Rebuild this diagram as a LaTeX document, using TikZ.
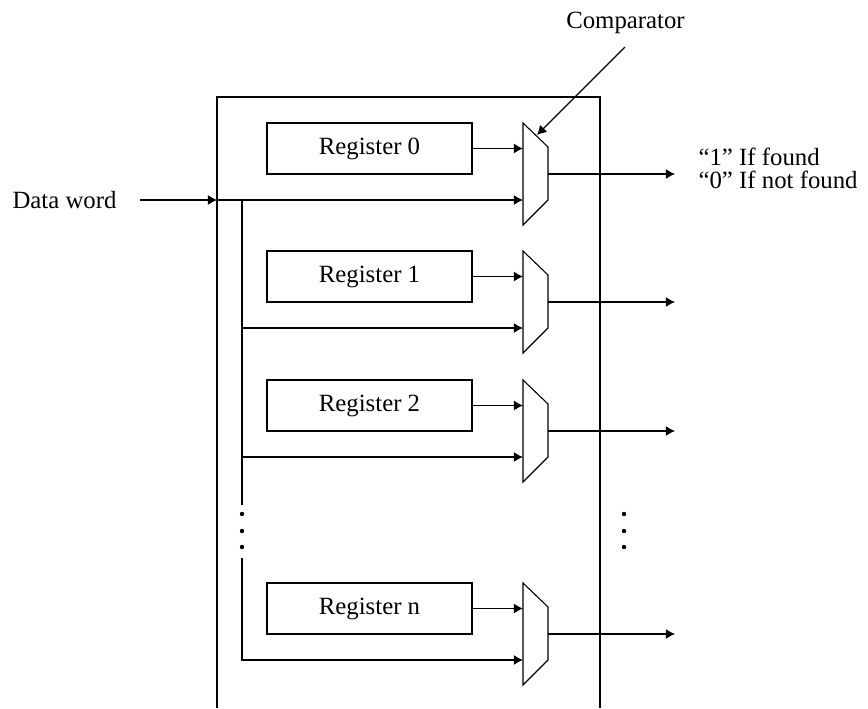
\documentclass[tikz,border=0pt]{standalone}
\usepackage{fontspec}
\setmainfont{Liberation Serif}
\usetikzlibrary{arrows.meta}
\begin{document}
\begin{tikzpicture}[x=0.5pt,y=-0.5pt, line width=0.55pt, >={Latex[length=4.6pt,width=5pt]}]
\useasboundingbox (0,0) rectangle (868,708);
\tikzset{
  txt/.style={font=\fontsize{12.4}{14}\selectfont, inner sep=0pt},
  regbox/.style={draw, minimum width=102.5pt, minimum height=25.5pt, inner sep=0pt, font=\fontsize{12.4}{14}\selectfont},
  dotmark/.style={circle, fill, inner sep=0pt, minimum size=2.2pt},
  wire/.style={draw}
}
% outer frame
\coordinate (fbl) at (217,708);
\coordinate (ftl) at (217,97);
\coordinate (ftr) at (600,97);
\coordinate (fbr) at (600,708);
\draw (fbl) -- (ftl) -- (ftr) -- (fbr);

% stages
\foreach \i/\T/\lab in {0/123/0, 1/251/1, 2/380/2, n/583/n}{
  \node[regbox] (r\i) at (369.5,\T+25.5) {Register \lab};
  \coordinate (c\i a) at (523,\T);
  \coordinate (c\i b) at (548,\T+24);
  \coordinate (c\i c) at (548,\T+77);
  \coordinate (c\i d) at (523,\T+102);
  \coordinate (c\i in1) at (523,\T+25.5);
  \coordinate (c\i in2) at (523,\T+77);
  \coordinate (c\i out) at (548,\T+51);
  \coordinate (o\i) at (675,\T+51);
  \draw (c\i a) -- (c\i b) -- (c\i c) -- (c\i d) -- cycle;
  \draw[->] (r\i.east) -- (c\i in1);
  \draw[->] (c\i out) -- (o\i);
}

% data word input
\node[txt, anchor=base west] (dw) at (12,208) {Data word};
\coordinate (din) at (140,200);
\coordinate (dj) at (217,200);
\coordinate (bus0) at (242,200);
\draw[->] (din) -- (dj);
\draw[->] (dj) -- (c0in2);

% bus
\coordinate (busA) at (242,505);
\coordinate (busB) at (242,558);
\coordinate (b1) at (242,328);
\coordinate (b2) at (242,457);
\coordinate (bn) at (242,660);
\draw (bus0) -- (busA);
\draw[->] (b1) -- (c1in2);
\draw[->] (b2) -- (c2in2);
\draw[->] (busB) -- (bn) -- (cnin2);

% dots
\foreach \y [count=\k] in {514,531,547}{
  \node[dotmark] (ld\k) at (242,\y) {};
  \node[dotmark] (rd\k) at (624,\y) {};
}

% labels
\node[txt, anchor=base] (cmp) at (625.5,28) {Comparator};
\coordinate (cmpt) at (625,47);
\coordinate (cmph) at (537,135);
\draw[->] (cmpt) -- (cmph);
\node[txt, anchor=base west] (f1) at (698,165) {“1” If found};
\node[txt, anchor=base west] (f0) at (698,188) {“0” If not found};
\end{tikzpicture}
\end{document}
